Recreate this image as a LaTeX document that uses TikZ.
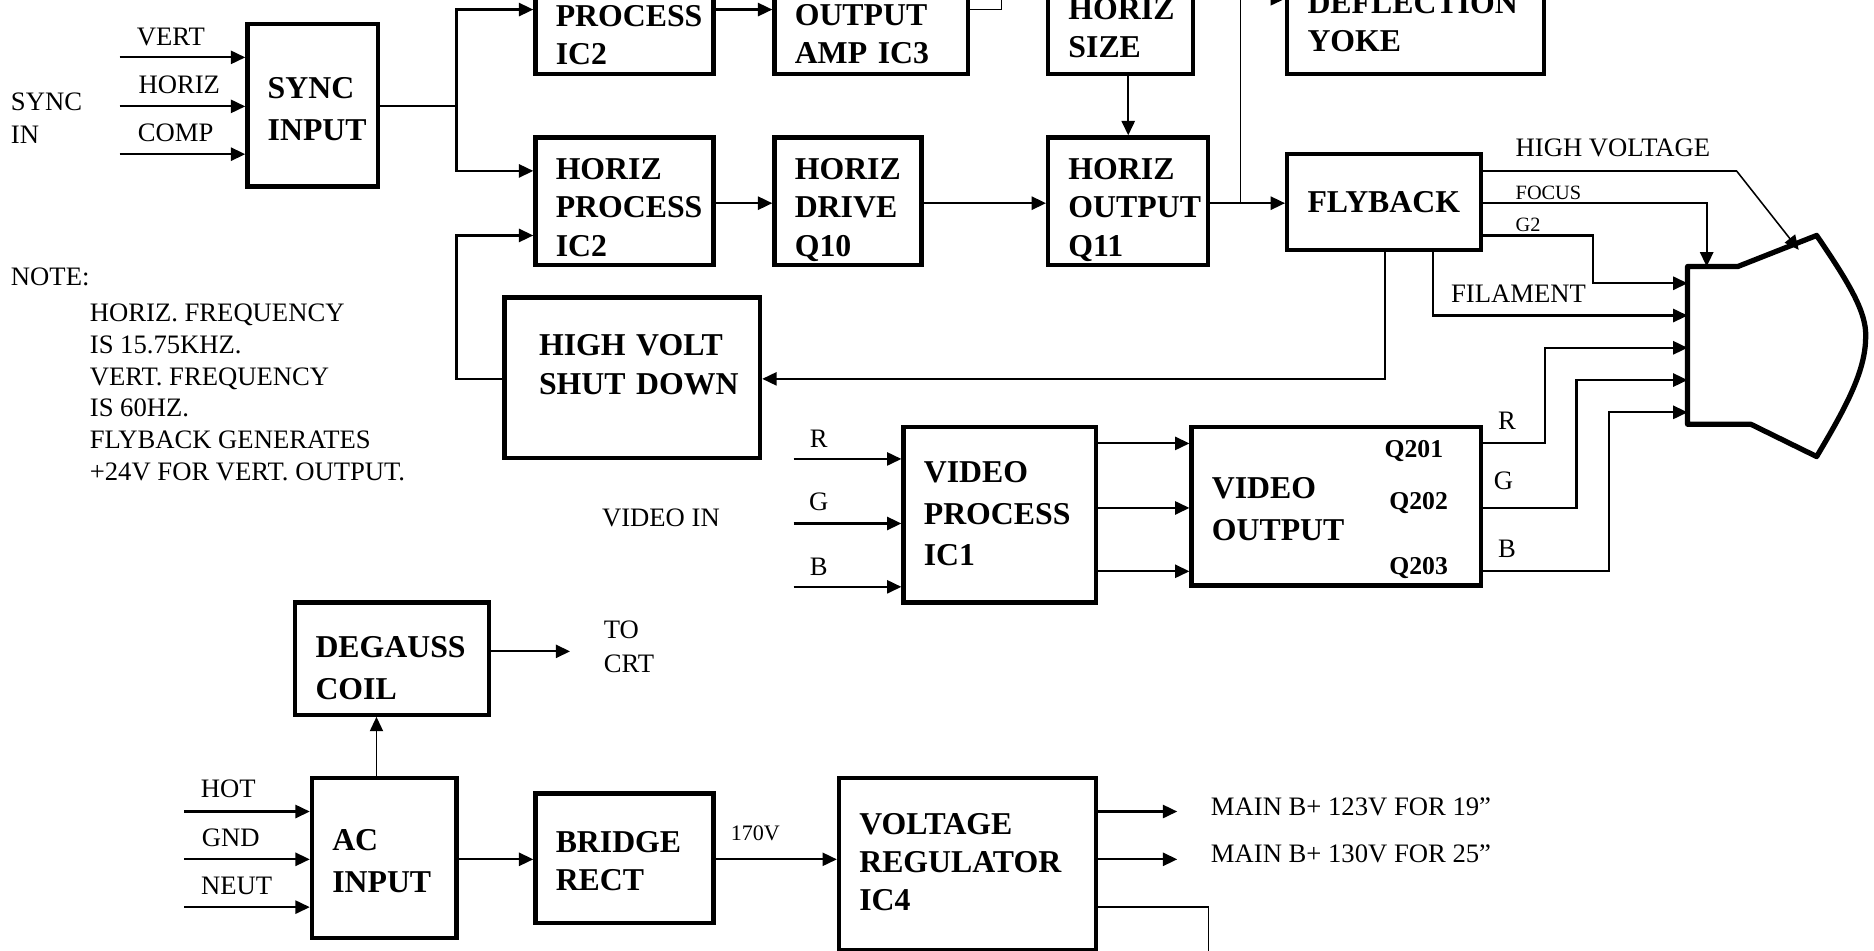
\documentclass[tikz,border=0pt]{standalone}
\usepackage{fontspec}
\setmainfont{Liberation Serif}
\usetikzlibrary{arrows.meta}
\newcommand{\topgap}[1]{\rule{0pt}{#1pt}}
\newcommand{\botgap}[1]{\rule[-#1pt]{0pt}{#1pt}}
\tikzset{
    blockbox/.style 2 args={draw,line width=3.6pt,minimum width=#1pt,minimum height=#2pt,inner xsep=17pt,inner ysep=0pt,text width=#1pt-34pt,align=left,font=\fontsize{26.6}{32}\selectfont\bfseries},
    thinlabel/.style={inner sep=0pt,font=\fontsize{22.3}{26}\selectfont,align=left},
    qlabel/.style={inner sep=0pt,font=\fontsize{21.5}{24}\selectfont\bfseries},
    wire/.style={line width=1.8pt},
    hairwire/.style={line width=1.3pt}
}
\begin{document}
\begin{tikzpicture}[x=1pt,y=-1pt,>={Triangle[length=12pt,width=11pt]}]
    \useasboundingbox (0,0) rectangle (1568,795.7);
    % blocks
    \node[blockbox={109}{136}] (SyncInput) at (261.5,88) {\topgap{24}SYNC\\[3pt]INPUT};
    \node[blockbox={149}{65}] (VertProcess) at (522.5,29.5) {PROCESS\\IC2};
    \node[blockbox={162}{67}] (OutputAmp) at (729,28.5) {OUTPUT\\AMP~IC3};
    \node[blockbox={121}{77}] (HorizSize) at (937.5,23.5) {HORIZ\\SIZE};
    \node[blockbox={215}{87}] (Yoke) at (1184.5,18.5) {DEFLECTION\\YOKE};
    \node[blockbox={149}{107}] (HorizProcess) at (522.5,168.5) {\topgap{28}HORIZ\\PROCESS\\IC2};
    \node[blockbox={123}{107}] (HorizDrive) at (709.5,168.5) {\topgap{32}HORIZ\\DRIVE\\Q10};
    \node[blockbox={134}{107}] (HorizOutput) at (944,168.5) {\topgap{32}HORIZ\\OUTPUT\\Q11};
    \node[blockbox={162}{80}] (Flyback) at (1158,169) {FLYBACK};
    \node[blockbox={214}{134},inner xsep=29pt,text width=156pt] (ShutDown) at (529,316) {HIGH~VOLT\\SHUT~DOWN\botgap{22}};
    \node[blockbox={161}{147}] (VideoProcess) at (836.5,430.5) {VIDEO\\[3pt]PROCESS\\[2.5pt]IC1\botgap{2}};
    \node[blockbox={242}{133}] (VideoOutput) at (1118,423.5) {\topgap{22}VIDEO\\[3pt]OUTPUT};
    \node[blockbox={162}{94}] (Degauss) at (328,551) {\topgap{34}DEGAUSS\\[3pt]COIL};
    \node[blockbox={121}{134}] (AcInput) at (321.5,718) {\topgap{22}AC\\[3pt]INPUT};
    \node[blockbox={149}{108}] (BridgeRect) at (522.5,718) {\topgap{22}BRIDGE\\RECT};
    \node[blockbox={215}{144}] (Regulator) at (809.5,723) {VOLTAGE\\REGULATOR\\IC4\botgap{4}};
    % crt tube
    \draw[line width=4.4pt,line join=round] (1412,223) coordinate (CrtTop) -- (1454,223) -- (1520,197) .. controls (1548,238) and (1562,262) .. (1561,282) .. controls (1561,310) and (1545,340) .. (1520,382) -- (1465,355) -- (1412,355) -- cycle;
    % labels
    \node[thinlabel,anchor=west] (SyncIn) at (9,99) {SYNC\\[2pt]IN};
    \node[thinlabel] (VertLabel) at (143,31) {VERT};
    \node[thinlabel] (HorizLabel) at (150,71) {HORIZ};
    \node[thinlabel] (CompLabel) at (147,111) {COMP};
    \node[thinlabel,anchor=west] (Note) at (9,232) {NOTE:};
    \node[thinlabel,anchor=north west,font=\fontsize{22.3}{26.6}\selectfont] (NoteText) at (75,254) {HORIZ. FREQUENCY\\IS 15.75KHZ.\\VERT. FREQUENCY\\IS 60HZ.\\FLYBACK GENERATES\\+24V FOR VERT. OUTPUT.};
    \node[thinlabel,anchor=west] (HighVoltage) at (1268,124) {HIGH VOLTAGE};
    \node[thinlabel,anchor=west,font=\fontsize{17}{20}\selectfont] (Focus) at (1268,161) {FOCUS};
    \node[thinlabel,anchor=west,font=\fontsize{17}{20}\selectfont] (GTwo) at (1268,188) {G2};
    \node[thinlabel,anchor=west] (Filament) at (1214,246) {FILAMENT};
    \node[thinlabel] (InR) at (685,367) {R};
    \node[thinlabel] (InG) at (685,420) {G};
    \node[thinlabel] (InB) at (685,474) {B};
    \node[thinlabel] (VideoIn) at (553,433) {VIDEO IN};
    \node[qlabel] (QOne) at (1183,377) {Q201};
    \node[qlabel] (QTwo) at (1187,421) {Q202};
    \node[qlabel] (QThree) at (1187,475) {Q203};
    \node[thinlabel] (OutR) at (1261,352) {R};
    \node[thinlabel] (OutG) at (1258,402) {G};
    \node[thinlabel] (OutB) at (1261,459) {B};
    \node[thinlabel,anchor=west] (ToCrt) at (505,541) {TO\\[2pt]CRT};
    \node[thinlabel] (HotLabel) at (191,660) {HOT};
    \node[thinlabel] (GndLabel) at (193,701) {GND};
    \node[thinlabel] (NeutLabel) at (198,741) {NEUT};
    \node[thinlabel,font=\fontsize{18.5}{22}\selectfont] (RailLabel) at (632,697) {170V};
    \node[thinlabel,anchor=west] (MainA) at (1013,675) {MAIN B+ 123V FOR 19”};
    \node[thinlabel,anchor=west] (MainB) at (1013,714) {MAIN B+ 130V FOR 25”};
    % sync inputs
    \coordinate (vert_in) at (100,48);
    \coordinate (horiz_in) at (100,89);
    \coordinate (comp_in) at (100,129);
    \draw[->,wire] (vert_in) -- (vert_in -| SyncInput.west);
    \draw[->,wire] (horiz_in) -- (horiz_in -| SyncInput.west);
    \draw[->,wire] (comp_in) -- (comp_in -| SyncInput.west);
    \coordinate (sync_split) at (382,89);
    \coordinate (vert_row) at (382,8);
    \coordinate (horiz_row) at (382,143);
    \coordinate (shut_row) at (382,197);
    \coordinate (shut_turn) at (382,317);
    \draw[wire] (SyncInput.east |- sync_split) -- (sync_split);
    \draw[->,wire] (sync_split) -- (vert_row) -- (vert_row -| VertProcess.west);
    \draw[->,wire] (sync_split) -- (horiz_row) -- (horiz_row -| HorizProcess.west);
    \draw[->,wire] (ShutDown.west |- shut_turn) -- (shut_turn) -- (shut_row) -- (shut_row -| HorizProcess.west);
    % top row
    \draw[->,wire] (VertProcess.east |- vert_row) -- (vert_row -| OutputAmp.west);
    \coordinate (amp_exit) at (838,-3);
    \draw[hairwire] (OutputAmp.east |- vert_row) -- (vert_row -| amp_exit) -- (amp_exit);
    \draw[->,wire] (HorizOutput.north |- HorizSize.south) -- (HorizOutput.north);
    % horizontal chain
    \coordinate (chain) at (1038,170);
    \coordinate (yoke_feed) at (1038,-1);
    \draw[->,wire] (HorizProcess.east |- chain) -- (chain -| HorizDrive.west);
    \draw[->,wire] (HorizDrive.east |- chain) -- (chain -| HorizOutput.west);
    \draw[->,wire] (HorizOutput.east |- chain) -- (chain -| Flyback.west);
    \draw[->,hairwire] (chain) -- (yoke_feed) -- (yoke_feed -| Yoke.west);
    % flyback outputs
    \coordinate (hv_row) at (1453,143);
    \coordinate (hv_tip) at (1505,209);
    \coordinate (focus_row) at (1428,170);
    \coordinate (g_row) at (1333,197);
    \coordinate (g_in) at (1333,237);
    \coordinate (fil_in) at (1199,264);
    \coordinate (shut_drop) at (1159,317);
    \draw[hairwire] (Flyback.east |- hv_row) -- (hv_row);
    \draw[->,hairwire] (hv_row) -- (hv_tip);
    \draw[->,wire] (Flyback.east |- focus_row) -- (focus_row) -- (focus_row |- CrtTop);
    \draw[->,wire] (Flyback.east |- g_row) -- (g_row) -- (g_in) -- (g_in -| CrtTop);
    \draw[->,wire] (fil_in |- Flyback.south) -- (fil_in) -- (fil_in -| CrtTop);
    \draw[->,wire] (shut_drop |- Flyback.south) -- (shut_drop) -- (shut_drop -| ShutDown.east);
    % video
    \coordinate (r_in) at (664,384);
    \coordinate (g_in_v) at (664,438);
    \coordinate (b_in) at (664,491);
    \draw[->,wire] (r_in) -- (r_in -| VideoProcess.west);
    \draw[->,wire] (g_in_v) -- (g_in_v -| VideoProcess.west);
    \draw[->,wire] (b_in) -- (b_in -| VideoProcess.west);
    \coordinate (r_row) at (1293,371);
    \coordinate (g_row_v) at (1319,425);
    \coordinate (b_row) at (1346,478);
    \coordinate (r_crt) at (1412,291);
    \coordinate (g_crt) at (1412,318);
    \coordinate (b_crt) at (1412,345);
    \draw[->,wire] (VideoProcess.east |- r_row) -- (r_row -| VideoOutput.west);
    \draw[->,wire] (VideoProcess.east |- g_row_v) -- (g_row_v -| VideoOutput.west);
    \draw[->,wire] (VideoProcess.east |- b_row) -- (b_row -| VideoOutput.west);
    \draw[->,wire] (VideoOutput.east |- r_row) -- (r_row) -- (r_row |- r_crt) -- (r_crt);
    \draw[->,wire] (VideoOutput.east |- g_row_v) -- (g_row_v) -- (g_row_v |- g_crt) -- (g_crt);
    \draw[->,wire] (VideoOutput.east |- b_row) -- (b_row) -- (b_row |- b_crt) -- (b_crt);
    % power
    \coordinate (hot_in) at (154,679);
    \coordinate (gnd_in) at (154,719);
    \coordinate (neut_in) at (154,759);
    \coordinate (degauss_feed) at (315,620);
    \coordinate (degauss_out) at (477,545);
    \draw[->,wire] (hot_in) -- (hot_in -| AcInput.west);
    \draw[->,wire] (gnd_in) -- (gnd_in -| AcInput.west);
    \draw[->,wire] (neut_in) -- (neut_in -| AcInput.west);
    \draw[->,hairwire] (degauss_feed |- AcInput.north) -- (degauss_feed |- Degauss.south);
    \draw[->,wire] (Degauss.east |- degauss_out) -- (degauss_out);
    \draw[->,wire] (AcInput.east |- gnd_in) -- (gnd_in -| BridgeRect.west);
    \draw[->,wire] (BridgeRect.east |- gnd_in) -- (gnd_in -| Regulator.west);
    \coordinate (main_a) at (985,679);
    \coordinate (main_b) at (985,719);
    \coordinate (reg_row) at (1011,759);
    \coordinate (reg_exit) at (1011,800);
    \draw[->,wire] (Regulator.east |- main_a) -- (main_a);
    \draw[->,wire] (Regulator.east |- main_b) -- (main_b);
    \draw[hairwire] (Regulator.east |- reg_row) -- (reg_row) -- (reg_exit);
\end{tikzpicture}
\end{document}
